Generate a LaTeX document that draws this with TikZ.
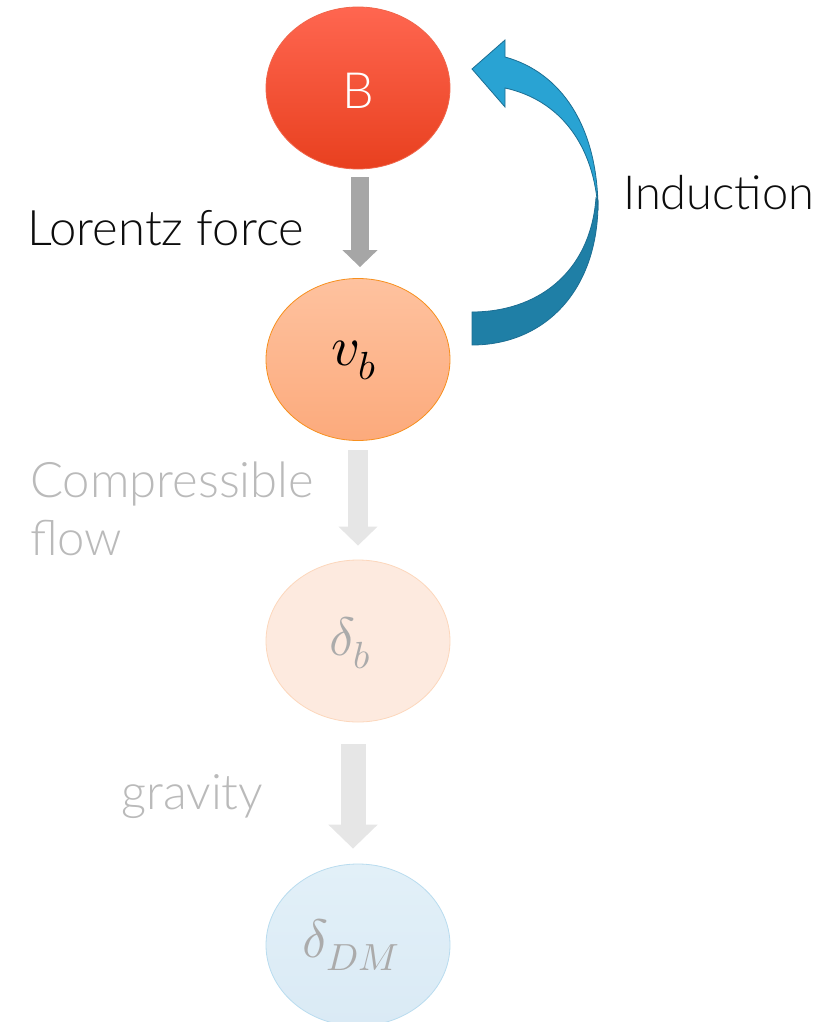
\documentclass[tikz,border=0pt]{standalone}
\usepackage{fontspec}
\usepackage{unicode-math}
\setmainfont{Lato}[UprightFont=* Light]
\setmathfont{Latin Modern Math}
\usetikzlibrary{shapes.geometric,arrows.meta,calc}
\definecolor{txtblack}{HTML}{0D0D0D}
\definecolor{fadetxt}{HTML}{BABABA}
\definecolor{deltatxt}{HTML}{ABABAB}
\definecolor{Btop}{HTML}{FF6650}
\definecolor{Bbot}{HTML}{E8401F}
\definecolor{Bline}{HTML}{F0654A}
\definecolor{vtop}{HTML}{FEC29F}
\definecolor{vbot}{HTML}{FCAA7C}
\definecolor{vline}{HTML}{F7901E}
\definecolor{dbfill}{HTML}{FDEADF}
\definecolor{dbline}{HTML}{FCD7BC}
\definecolor{dmtop}{HTML}{E2F0F8}
\definecolor{dmbot}{HTML}{DAEAF5}
\definecolor{dmline}{HTML}{B9DCEF}
\definecolor{arrgray}{HTML}{A6A6A6}
\definecolor{arrlight}{HTML}{E6E6E6}
\definecolor{bluelight}{HTML}{29A3D3}
\definecolor{bluedark}{HTML}{1F7FA6}
\definecolor{blueline}{HTML}{1C6E93}
\tikzset{
  bubble/.style={ellipse, minimum width=184pt, minimum height=162pt, inner sep=0pt, line width=0.8pt},
  lbl/.style={anchor=base west, inner sep=0pt, font=\fontsize{49}{56}\selectfont}
}
\begin{document}
\begin{tikzpicture}[x=1pt,y=-1pt]
\useasboundingbox (0,0) rectangle (835,1022);
% bubbles
\node[bubble, top color=Btop, bottom color=Bbot, draw=Bline] (B) at (358,88) {};
\node[text=white, font=\fontsize{50}{56}\selectfont] (Bt) at (358,91) {B};
\node[bubble, top color=vtop, bottom color=vbot, draw=vline] (v) at (358,359.5) {};
\node[font=\fontsize{56}{60}\selectfont, text=black] (vt) at (354,360) {$v_b$};
\node[bubble, fill=dbfill, draw=dbline] (db) at (358,641) {};
\node[font=\fontsize{54}{60}\selectfont, text=deltatxt] (dbt) at (350,643) {$\delta_b$};
\node[bubble, top color=dmtop, bottom color=dmbot, draw=dmline] (dm) at (358,945) {};
\node[font=\fontsize{54}{60}\selectfont, text=deltatxt] (dmt) at (351,945) {$\delta_{DM}$};
% gray block arrows
\draw[arrgray, line width=18pt, -{Triangle[width=34pt,length=17pt]}]
  ($(B.south)+(2,8)$) -- ($(v.north)+(2,-11)$);
\draw[arrlight, line width=20pt, -{Triangle[width=38pt,length=19pt]}]
  ($(v.south)+(0,9)$) -- ($(db.north)+(0,-14)$);
\draw[arrlight, line width=25pt, -{Triangle[width=48pt,length=24pt]}]
  ($(db.south)+(-5,22)$) -- ($(dm.north)+(-5,-15)$);
% curved induction arrow
\filldraw[fill=bluedark, draw=blueline, line width=0.8pt]
  (598,200) .. controls (599,290) and (545,345) .. (472,345)
  -- (472,312) .. controls (535,312) and (590,275) .. (596,198) -- cycle;
\filldraw[fill=bluelight, draw=blueline, line width=0.8pt]
  (472,69) -- (505,40) -- (505,57) .. controls (560,72) and (598,125) .. (598,210)
  .. controls (594,145) and (560,100) .. (505,88) -- (505,107) -- cycle;
% labels
\node[lbl, text=txtblack] (lf) at (27,245) {Lorentz force};
\node[lbl, text=txtblack, font=\fontsize{47}{56}\selectfont] (ind) at (623,209) {Induction};
\node[lbl, text=fadetxt] (cf1) at (30,497) {Compressible};
\node[lbl, text=fadetxt] (cf2) at (30,555) {flow};
\node[lbl, text=fadetxt] (gr) at (121,809) {gravity};
\end{tikzpicture}
\end{document}
